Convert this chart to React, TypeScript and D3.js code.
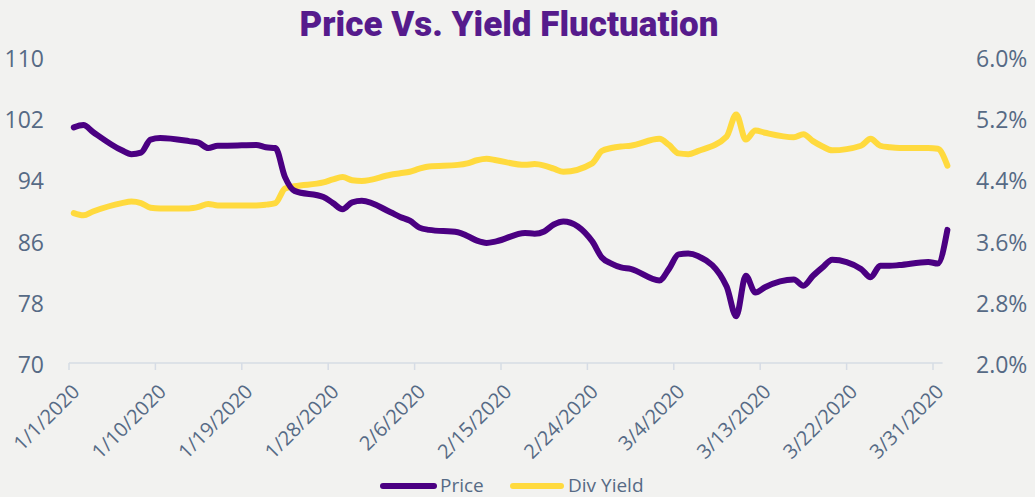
import React from 'react';
import * as d3 from 'd3';

// trading days (points sit in the middle of each day)
const dates = [
  '2020-01-01', '2020-01-02', '2020-01-03', '2020-01-06', '2020-01-07', '2020-01-08', '2020-01-09', '2020-01-10',
  '2020-01-13', '2020-01-14', '2020-01-15', '2020-01-16', '2020-01-17', '2020-01-20', '2020-01-21', '2020-01-22',
  '2020-01-23', '2020-01-24', '2020-01-27', '2020-01-28', '2020-01-29', '2020-01-30', '2020-01-31', '2020-02-03',
  '2020-02-04', '2020-02-05', '2020-02-06', '2020-02-07', '2020-02-10', '2020-02-11', '2020-02-12', '2020-02-13',
  '2020-02-14', '2020-02-17', '2020-02-18', '2020-02-19', '2020-02-20', '2020-02-21', '2020-02-24', '2020-02-25',
  '2020-02-26', '2020-02-27', '2020-02-28', '2020-03-02', '2020-03-03', '2020-03-04', '2020-03-05', '2020-03-06',
  '2020-03-09', '2020-03-10', '2020-03-11', '2020-03-12', '2020-03-13', '2020-03-16', '2020-03-17', '2020-03-18',
  '2020-03-19', '2020-03-20', '2020-03-23', '2020-03-24', '2020-03-25', '2020-03-26', '2020-03-27', '2020-03-30',
  '2020-03-31', '2020-04-01',
];

const price = [
  100.8, 101.1, 100.2, 97.8, 97.3, 97.5, 99.2, 99.4,
  99.0, 98.8, 98.1, 98.4, 98.4, 98.5, 98.2, 98.1,
  94.3, 92.5, 91.7, 90.9, 90.1, 91.0, 91.2, 89.7,
  89.1, 88.6, 87.7, 87.4, 87.1, 86.6, 86.0, 85.7,
  85.9, 87.0, 86.9, 87.2, 88.1, 88.5, 85.9, 83.8,
  83.0, 82.5, 82.3, 80.8, 82.3, 84.2, 84.3, 84.0,
  80.0, 76.1, 81.4, 79.2, 79.9, 80.9, 80.1, 81.4,
  82.5, 83.5, 82.3, 81.2, 82.7, 82.7, 82.8, 83.2,
  83.0, 87.4,
];

const divYield = [
  3.96, 3.93, 3.98, 4.09, 4.11, 4.09, 4.03, 4.02,
  4.02, 4.04, 4.08, 4.06, 4.06, 4.06, 4.07, 4.09,
  4.28, 4.31, 4.36, 4.40, 4.43, 4.39, 4.38, 4.46,
  4.48, 4.50, 4.54, 4.57, 4.59, 4.61, 4.65, 4.67,
  4.65, 4.59, 4.60, 4.58, 4.54, 4.50, 4.61, 4.77,
  4.81, 4.83, 4.84, 4.93, 4.85, 4.74, 4.73, 4.77,
  4.96, 5.25, 4.92, 5.04, 5.01, 4.95, 4.99, 4.90,
  4.83, 4.78, 4.84, 4.93, 4.84, 4.82, 4.81, 4.81,
  4.80, 4.58,
];

const xTicks = [
  '2020-01-01', '2020-01-10', '2020-01-19', '2020-01-28', '2020-02-06', '2020-02-15',
  '2020-02-24', '2020-03-04', '2020-03-13', '2020-03-22', '2020-03-31',
];
const priceTicks = [70, 78, 86, 94, 102, 110];
const yieldTicks = [2.0, 2.8, 3.6, 4.4, 5.2, 6.0];

const W = 1035;
const H = 497;
const PURPLE = '#4B0082';
const YELLOW = '#FFDA3E';
const TEXT = '#566A85';
const FONT = "'Open Sans', 'Noto Sans', sans-serif";

const parse = d3.utcParse('%Y-%m-%d');

export default function App() {
  const x = d3.scaleUtc()
    .domain([parse('2020-01-01'), parse('2020-04-01')])
    .range([69, 942.6]);
  const yPrice = d3.scaleLinear().domain([70, 110]).range([363, 57]);
  const yYield = d3.scaleLinear().domain([2, 6]).range([363, 57]);

  // middle of the day
  const xd = (s) => x(d3.utcHour.offset(parse(s), 12));

  const priceLine = d3.line()
    .x((d, i) => xd(dates[i]))
    .y((d) => yPrice(d))
    .curve(d3.curveMonotoneX);
  const yieldLine = d3.line()
    .x((d, i) => xd(dates[i]))
    .y((d) => yYield(d))
    .curve(d3.curveMonotoneX);

  const fmt = d3.utcFormat('%-m/%-d/%Y');
  const [x0, x1] = x.range();

  return (
    <svg width={W} height={H} style={{ position: 'absolute', left: 0, top: 0 }} fontFamily={FONT}>
      <rect width={W} height={H} fill="#F2F2F0" />

      <text x={509} y={36} textAnchor="middle" fill="#561B8C" fontSize={35} fontWeight={900}
        fontFamily="Roboto, sans-serif">
        Price Vs. Yield Fluctuation
      </text>

      {/* left axis */}
      {priceTicks.map((t) => (
        <text key={t} x={44} y={yPrice(t) + 2} dy="0.35em" textAnchor="end" fill={TEXT} fontSize={23}>
          {t}
        </text>
      ))}
      {/* right axis */}
      {yieldTicks.map((t) => (
        <text key={t} x={976} y={yYield(t) + 2} dy="0.35em" textAnchor="start" fill={TEXT} fontSize={23}>
          {t.toFixed(1) + '%'}
        </text>
      ))}

      {/* x axis */}
      <line x1={x0} x2={x1} y1={363} y2={363} stroke="#D6DCE5" strokeWidth={1.5} />
      {xTicks.map((t) => {
        const tx = x(parse(t));
        return (
          <g key={t}>
            <line x1={tx} x2={tx} y1={363} y2={370} stroke="#D6DCE5" strokeWidth={1.5} />
            <text transform={`translate(${tx + 7},${388}) rotate(-45)`} dy="0.35em" textAnchor="end"
              fill={TEXT} fontSize={20}>
              {fmt(parse(t))}
            </text>
          </g>
        );
      })}

      <path d={yieldLine(divYield)} fill="none" stroke={YELLOW} strokeWidth={6}
        strokeLinejoin="round" strokeLinecap="round" />
      <path d={priceLine(price)} fill="none" stroke={PURPLE} strokeWidth={6}
        strokeLinejoin="round" strokeLinecap="round" />

      {/* legend */}
      <line x1={383} x2={434} y1={486} y2={486} stroke={PURPLE} strokeWidth={6} strokeLinecap="round" />
      <text x={440} y={485} dy="0.35em" fill={TEXT} fontSize={19}>Price</text>
      <line x1={513} x2={561} y1={486} y2={486} stroke={YELLOW} strokeWidth={6} strokeLinecap="round" />
      <text x={568} y={485} dy="0.35em" fill={TEXT} fontSize={19}>Div Yield</text>
    </svg>
  );
}
